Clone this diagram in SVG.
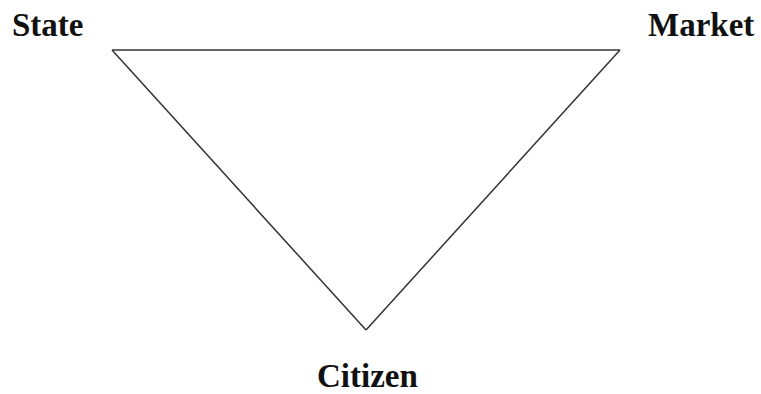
<svg xmlns="http://www.w3.org/2000/svg" width="761" height="394" viewBox="0 0 761 394">
<style>
.lbl{font-family:"Liberation Serif","Times New Roman",serif;font-weight:bold;font-size:33px;fill:#111;}
.edge{stroke:#333;stroke-width:1.5;fill:none;}
</style>
<rect width="761" height="394" fill="#fff"/>
<g id="connectors">
<line class="edge" x1="112" y1="50" x2="620" y2="50"/>
<line class="edge" x1="112" y1="50" x2="366" y2="330"/>
<line class="edge" x1="620" y1="50" x2="366" y2="330"/>
</g>
<g id="state"><text class="lbl" x="12" y="36">State</text></g>
<g id="market"><text class="lbl" x="648" y="36">Market</text></g>
<g id="citizen"><text class="lbl" x="317" y="387">Citizen</text></g>
</svg>
